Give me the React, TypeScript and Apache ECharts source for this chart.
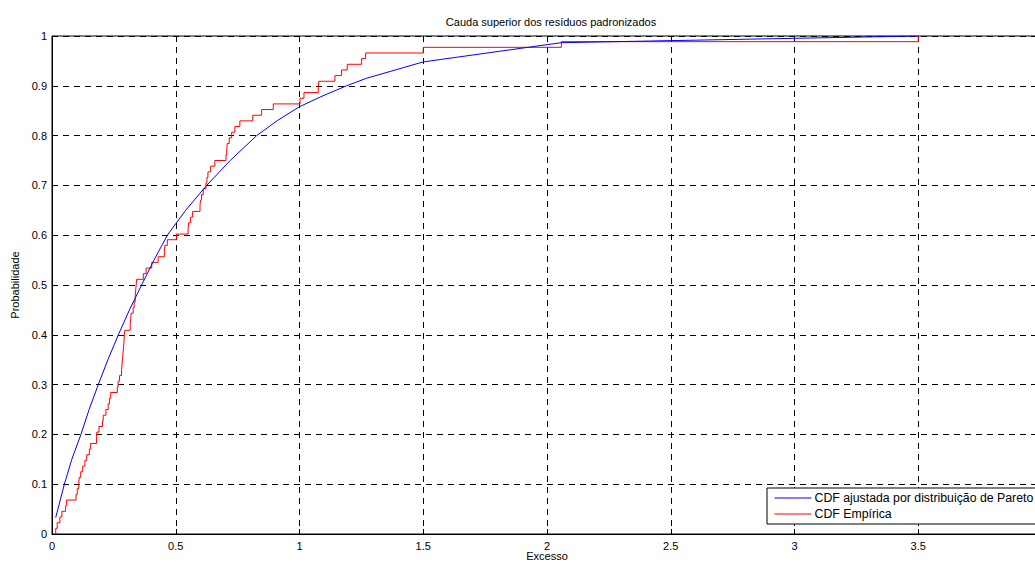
import React, { useEffect, useRef } from "react";
import * as echarts from "echarts";

const titleText = "Cauda superior dos resíduos padronizados";
const xName = "Excesso";
const yName = "Probabilidade";
const legendNames = ["CDF ajustada por distribuição de Pareto", "CDF Empírica"];

// sorted excess values (read from the empirical CDF steps)
const excessSamples = [
  0.015, 0.021, 0.032, 0.04, 0.055, 0.059, 0.097, 0.102, 0.108, 0.11,
  0.116, 0.124, 0.133, 0.14, 0.151, 0.156, 0.18, 0.181, 0.19, 0.204,
  0.207, 0.218, 0.227, 0.232, 0.237, 0.264, 0.267, 0.273, 0.281, 0.283,
  0.285, 0.287, 0.289, 0.291, 0.292, 0.294, 0.316, 0.318, 0.32, 0.328,
  0.332, 0.336, 0.338, 0.34, 0.342, 0.369, 0.38, 0.403, 0.429, 0.454,
  0.456, 0.466, 0.503, 0.55, 0.552, 0.56, 0.568, 0.598, 0.6, 0.604,
  0.611, 0.622, 0.626, 0.63, 0.641, 0.658, 0.703, 0.706, 0.708, 0.716,
  0.726, 0.739, 0.759, 0.811, 0.847, 0.894, 1.002, 1.018, 1.076, 1.078,
  1.143, 1.17, 1.193, 1.251, 1.267, 1.5, 2.058, 3.5,
];

// fitted Pareto CDF
const paretoX = [
  0.015, 0.05, 0.08, 0.117, 0.15, 0.187, 0.226, 0.268, 0.313, 0.362,
  0.412, 0.466, 0.54, 0.625, 0.72, 0.827, 0.91, 1.0, 1.095, 1.19,
  1.27, 1.5, 2.058, 3.5,
];
const paretoY = [
  0.033, 0.1, 0.15, 0.2, 0.25, 0.3, 0.35, 0.4, 0.45, 0.5,
  0.55, 0.6, 0.65, 0.7, 0.75, 0.8, 0.83, 0.858, 0.88, 0.9,
  0.915, 0.948, 0.9866, 1.0,
];

const xTicks = ["0", "0.5", "1", "1.5", "2", "2.5", "3", "3.5", ""];
const yTicks = ["0", "0.1", "0.2", "0.3", "0.4", "0.5", "0.6", "0.7", "0.8", "0.9", "1"];

const FONT = "Arial, 'Liberation Sans', Helvetica, sans-serif";

export default function App() {
  const ref = useRef<HTMLDivElement>(null);
  useEffect(() => {
    if (!ref.current) return;
    const chart = echarts.init(ref.current, undefined, { renderer: "svg" });
    const n = excessSamples.length;
    const ecdf: number[][] = [[excessSamples[0], 0]];
    excessSamples.forEach((v, i) => ecdf.push([v, (i + 1) / n]));
    const pareto = paretoX.map((v, i) => [v, paretoY[i]]);

    const gridLine = {
      show: true,
      lineStyle: { color: "#000", width: 1, type: [6, 5] as any },
    };

    chart.setOption({
      animation: false,
      backgroundColor: "#fff",
      textStyle: { fontFamily: FONT },
      title: {
        text: titleText,
        left: 546,
        top: 11,
        textAlign: "center",
        textStyle: { fontSize: 11, fontWeight: "normal", color: "#000", fontFamily: FONT },
      },
      graphic: [
        {
          type: "text",
          x: 547,
          y: 556,
          style: {
            text: xName,
            fontSize: 11,
            fontFamily: FONT,
            fill: "#000",
            align: "center",
            verticalAlign: "middle",
          },
        },
      ],
      grid: {
        left: 52,
        top: 36,
        width: 990,
        height: 498,
        containLabel: false,
        outerBoundsMode: "none",
        show: true,
        borderColor: "#000",
        borderWidth: 1,
        backgroundColor: "transparent",
      },
      legend: {
        orient: "vertical",
        left: 767,
        top: 488,
        padding: [4, 7, 4, 7],
        itemWidth: 37,
        itemHeight: 14,
        itemGap: 4,
        itemStyle: { opacity: 0 },
        lineStyle: { width: 1 },
        backgroundColor: "#fff",
        borderColor: "#000",
        borderWidth: 1,
        borderRadius: 0,
        data: legendNames,
        textStyle: { fontSize: 12.3, color: "#000", fontFamily: FONT, padding: [0, 0, 0, -2] },
      },
      xAxis: {
        type: "value",
        min: 0,
        max: 4,
        interval: 0.5,
        axisLine: { show: true, lineStyle: { color: "#000", width: 1 } },
        axisTick: { show: true, inside: true, length: 5, lineStyle: { color: "#000" } },
        axisLabel: {
          fontSize: 11,
          color: "#000",
          margin: 6,
          fontFamily: FONT,
          formatter: (v: number) => xTicks[Math.round(v / 0.5)] ?? "",
        },
        splitLine: gridLine,
      },
      yAxis: {
        type: "value",
        min: 0,
        max: 1,
        interval: 0.1,
        name: yName,
        nameLocation: "middle",
        nameGap: 31,
        nameTextStyle: { fontSize: 11, color: "#000", fontFamily: FONT },
        axisLine: { show: true, lineStyle: { color: "#000", width: 1 } },
        axisTick: { show: true, inside: true, length: 5, lineStyle: { color: "#000" } },
        axisLabel: {
          fontSize: 11,
          color: "#000",
          margin: 5,
          fontFamily: FONT,
          formatter: (v: number) => yTicks[Math.round(v * 10)] ?? "",
        },
        splitLine: gridLine,
      },
      series: [
        {
          name: legendNames[0],
          type: "line",
          data: pareto,
          symbol: "none",
          lineStyle: { color: "#0000ff", width: 1 },
          itemStyle: { color: "#0000ff" },
          z: 3,
        },
        {
          name: legendNames[1],
          type: "line",
          data: ecdf,
          step: "end",
          symbol: "none",
          lineStyle: { color: "#ff0000", width: 1 },
          itemStyle: { color: "#ff0000" },
          z: 2,
        },
      ],
    });
    return () => chart.dispose();
  }, []);

  return (
    <div
      style={{
        position: "absolute",
        left: 0,
        top: 0,
        width: 1035,
        height: 563,
        overflow: "hidden",
        background: "#fff",
      }}
    >
      <div ref={ref} style={{ width: 1100, height: 563 }} />
    </div>
  );
}
